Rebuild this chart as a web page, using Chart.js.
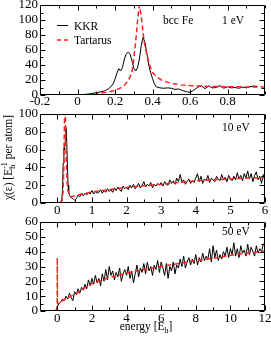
<!DOCTYPE html>
<html>
<head>
<meta charset="utf-8">
<script src="https://cdn.jsdelivr.net/npm/chart.js@4.4.1/dist/chart.umd.min.js"></script>
<style>
  html, body { margin: 0; padding: 0; background: #fff; }
  #wrap { position: relative; width: 271px; height: 339px; overflow: hidden; background: #fff; }
  .pane { position: absolute; left: 0; width: 271px; }
</style>
</head>
<body>
<div id="wrap">
  <div class="pane" style="top:0px;height:112px"><canvas id="c1" width="271" height="112"></canvas></div>
  <div class="pane" style="top:109px;height:112px"><canvas id="c2" width="271" height="112"></canvas></div>
  <div class="pane" style="top:216px;height:123px"><canvas id="c3" width="271" height="123"></canvas></div>
</div>
<script>
// ---------------- DATA ----------------
// Panel 1 (1 eV)
const kkr1X = [-0.2,0,0.05,0.1,0.13,0.15,0.17,0.19,
  0.2,0.21,0.22,0.23,0.24,0.25,0.26,0.27,0.28,0.29,0.3,0.31,0.32,0.33,0.34,0.35,0.36,0.37,0.38,0.39,0.4,0.41,0.42,
  0.44,0.46,0.48,0.5,0.52,0.54,0.56,0.58,0.6,0.62,0.64,0.66,0.68,0.7,0.72,0.74,0.76,0.78,0.8,0.82,0.84,0.86,0.88,0.9,0.92,0.94,0.96];
const kkr1Y = [0,0,1,3,4.5,6,9,15,
  21,29,35,32,37,48,55,57,55,46,36,32,36,48,66,77,70,55,40,30,22,15,11,
  9.5,9,9.5,9,7.5,8,6,4.5,3.5,6.5,10,12.5,8.5,12,9.5,10,12.5,9,11,9.5,10,9,10.5,9.5,11,12,11.5];
const tart1X = [0,0.05,0.1,0.15,0.2,0.23,0.25,0.27,0.28,0.29,0.3,0.31,0.32,0.33,0.34,0.35,0.36,0.37,0.38,0.39,0.4,0.42,0.45,0.5,0.55,0.6,0.7,0.8,0.9,1.0];
const tart1Y = [0,0.8,2,3.5,6,9.5,13,19,24,30,48,70,98,120,105,82,64,55,44,36,30,25,19.5,15.5,13.5,12.5,11.5,11,10.8,10.5];

// Panel 2 (10 eV)
const kkr10X = [-0.5,0.05,0.1,0.13,0.15,0.17,0.19,0.21,0.23,0.25,0.27,0.29,0.31,0.33,0.36,0.4,0.45,0.5,0.55,
  0.6,0.65,0.7,0.75,0.8,0.85,0.9,0.95,1.0,
  1.05,1.1,1.15,1.2,1.25,1.3,1.35,1.4,1.45,1.5,
  1.55,1.6,1.65,1.7,1.75,1.8,1.85,1.9,1.95,2.0,
  2.05,2.1,2.15,2.2,2.25,2.3,2.35,2.4,2.45,2.5,
  2.55,2.6,2.65,2.7,2.75,2.8,2.85,2.9,2.95,3.0,
  3.05,3.1,3.15,3.2,3.25,3.3,3.35,3.4,3.45,3.5,
  3.55,3.6,3.65,3.7,3.75,3.8,3.85,3.9,3.95,4.0,
  4.05,4.1,4.15,4.2,4.25,4.3,4.35,4.4,4.45,4.5,
  4.55,4.6,4.65,4.7,4.75,4.8,4.85,4.9,4.95,5.0,
  5.05,5.1,5.15,5.2,5.25,5.3,5.35,5.4,5.45,5.5,
  5.55,5.6,5.65,5.7,5.75,5.8,5.85,5.9,5.95,6.0];
const kkr10Y = [0,0,1,4,15,45,62,60,70,85,72,45,20,11,8,6,5,3,5,
  9,7,10,8,11,9,12,10,14,
  10,13,11,12,15,11,14,12,16,13,
  15,12,17,14,18,15,13,19,16,18,
  15,20,17,21,16,19,22,17,20,24,
  18,21,19,23,17,21,19,22,20,23,
  19,24,21,20,26,22,25,21,28,24,
  32,23,26,21,24,27,22,25,23,28,
  33,24,30,22,27,25,31,23,28,26,
  24,30,27,25,32,26,29,24,31,27,
  25,30,26,34,27,31,25,33,28,36,
  27,33,24,31,35,26,30,22,32,28];
const tart10X = [0.1,0.14,0.17,0.19,0.2,0.21,0.22,0.23,0.24,0.26,0.28,0.3,0.35,0.4,0.5,0.7,1,1.5,2,2.5,3,3.5,4,4.5,5,5.5,6];
const tart10Y = [0,3,15,45,75,100,120,105,80,45,25,15,9,7,8,10,12.5,15,17.5,19.5,21,23,25,26,27,28,28.5];

// Panel 3 (50 eV)
const kkr50X = [-0.8,-0.1,0,0.1,
  0.2,0.3,0.4,0.5,0.6,0.7,0.8,0.9,1.0,
  1.1,1.2,1.3,1.4,1.5,1.6,1.7,1.8,1.9,2.0,
  2.1,2.2,2.3,2.4,2.5,2.6,2.7,2.8,2.9,3.0,
  3.1,3.2,3.3,3.4,3.5,3.6,3.7,3.8,3.9,4.0,
  4.1,4.2,4.3,4.4,4.5,4.6,4.7,4.8,4.9,5.0,
  5.1,5.2,5.3,5.4,5.5,5.6,5.7,5.8,5.9,6.0,
  6.1,6.2,6.3,6.4,6.5,6.6,6.7,6.8,6.9,7.0,
  7.1,7.2,7.3,7.4,7.5,7.6,7.7,7.8,7.9,8.0,
  8.1,8.2,8.3,8.4,8.5,8.6,8.7,8.8,8.9,9.0,
  9.1,9.2,9.3,9.4,9.5,9.6,9.7,9.8,9.9,10.0,
  10.1,10.2,10.3,10.4,10.5,10.6,10.7,10.8,10.9,11.0,
  11.1,11.2,11.3,11.4,11.5,11.6,11.7,11.8,11.9,12.0];
const kkr50Y = [0,0,3,5,
  6,8,7,10,8,12,9,7,13,
  11,15,12,16,14,18,15,21,17,22,
  18,24,19,22,17,25,20,28,21,30,
  24,27,21,26,23,29,20,25,28,24,
  30,22,27,19,25,31,23,29,26,32,
  25,33,27,30,24,31,28,34,26,33,
  29,24,32,22,30,27,33,25,31,29,
  35,30,37,29,33,36,31,35,32,38,
  31,36,33,39,34,37,35,42,33,44,
  36,41,34,38,35,40,37,43,36,42,
  38,46,37,42,36,44,39,41,37,45,
  38,43,40,37,44,39,42,40,45,46];
const tart50X = [-0.01,0,0.01,0.05,0.3,0.6,1,1.5,2,2.5,3,4,5,6,7,8,9,10,11,12];
const tart50Y = [0,36,5,5,7,9,11,15,18.5,20.5,22.5,25.5,28,30,32,34,35.5,37.5,39,40.5];

// Axis ticks
const xTicks1 = [-0.2,0,0.2,0.4,0.6,0.8];
const xMinor1 = [-0.1,0.1,0.3,0.5,0.7,0.9,1.0];
const yTicks1 = [0,20,40,60,80,100,120];
const yMinor1 = [10,30,50,70,90,110];
const xTicks2 = [0,1,2,3,4,5,6];
const xMinor2 = [0.5,1.5,2.5,3.5,4.5,5.5];
const yTicks2 = [0,20,40,60,80,100];
const yMinor2 = [10,30,50,70,90];
const xTicks3 = [0,2,4,6,8,10,12];
const xMinor3 = [1,3,5,7,9,11];
const yTicks3 = [0,10,20,30,40,50,60];
const yMinor3 = [5,15,25,35,45,55];

const seriesNames = ['KKR', 'Tartarus'];
const panelLabels = ['1 eV', '10 eV', '50 eV'];

// ---------------- DRAWING ----------------
const FONT = '"Liberation Serif", "Times New Roman", serif';
const pts = (xs, ys) => xs.map((x, i) => ({x: x, y: ys[i]}));

function drawParts(ctx, parts, x, y, align) {
  let total = 0;
  parts.forEach(p => { ctx.font = p.size + 'px ' + FONT; p.w = ctx.measureText(p.t).width; if (!p.noAdvance) total += p.w; });
  let cx = align === 'center' ? x - total / 2 : x;
  ctx.textAlign = 'left';
  ctx.textBaseline = 'alphabetic';
  parts.forEach(p => {
    ctx.font = p.size + 'px ' + FONT;
    ctx.fillText(p.t, cx, y + (p.dy || 0));
    if (!p.noAdvance) cx += p.w;
  });
}

const framePlugin = {
  id: 'frame',
  afterDatasetsDraw(chart, args, o) {
    const {ctx, chartArea: a, scales: {x, y}} = chart;
    ctx.save();
    ctx.strokeStyle = '#000';
    ctx.lineWidth = 1;
    ctx.setLineDash([]);
    const L = Math.round(a.left) + 0.5, R = Math.round(a.right) - 0.5;
    const T = Math.round(a.top) + 0.5, B = Math.round(a.bottom) - 0.5;
    ctx.beginPath();
    ctx.rect(L, T, R - L, B - T);
    const tx = (vals, len) => vals.forEach(v => {
      const p = Math.round(x.getPixelForValue(v)) + 0.5;
      ctx.moveTo(p, B); ctx.lineTo(p, B - len);
      ctx.moveTo(p, T); ctx.lineTo(p, T + len);
    });
    const ty = (vals, len) => vals.forEach(v => {
      const p = Math.round(y.getPixelForValue(v)) + 0.5;
      ctx.moveTo(L, p); ctx.lineTo(L + len, p);
      ctx.moveTo(R, p); ctx.lineTo(R - len, p);
    });
    tx(o.xMajor, 5); tx(o.xMinor, 3);
    ty(o.yMajor, 5); ty(o.yMinor, 3);
    ctx.stroke();
    ctx.fillStyle = '#000';
    (o.texts || []).forEach(t => drawParts(ctx, t.parts, t.x, t.y, t.align));
    if (o.legend) {
      const lg = o.legend;
      ctx.lineWidth = 1;
      ctx.strokeStyle = '#000';
      ctx.beginPath(); ctx.moveTo(57, 25.5); ctx.lineTo(68, 25.5); ctx.stroke();
      ctx.strokeStyle = '#ff2020';
      ctx.lineWidth = 1.5;
      ctx.setLineDash([4, 3]);
      ctx.beginPath(); ctx.moveTo(57, 40); ctx.lineTo(69, 40); ctx.stroke();
      ctx.setLineDash([]);
      drawParts(ctx, [{t: lg[0], size: 11.5}], 74, 29.5, 'left');
      drawParts(ctx, [{t: lg[1], size: 11.5}], 74, 44, 'left');
    }
    if (o.yTitle) {
      ctx.save();
      ctx.translate(12, o.yTitle.cy);
      ctx.rotate(-Math.PI / 2);
      drawParts(ctx, o.yTitle.parts, 0, 0, 'center');
      ctx.restore();
    }
    ctx.restore();
  }
};

function makePanel(id, p) {
  const tickFont = {family: FONT, size: 13};
  return new Chart(document.getElementById(id), {
    type: 'line',
    data: {
      datasets: [
        {label: seriesNames[0], data: pts(p.kx, p.ky), borderColor: '#000', borderWidth: 1, pointRadius: 0, tension: 0, order: 2, fill: false},
        {label: seriesNames[1], data: pts(p.tx, p.ty), borderColor: '#ff2020', borderWidth: 1.5, borderDash: [5, 3], pointRadius: 0, tension: 0, order: 1, fill: false}
      ]
    },
    options: {
      responsive: false,
      animation: false,
      events: [],
      layout: {padding: {top: p.padTop, right: 6, left: 0, bottom: 0}},
      plugins: {
        legend: {display: false},
        tooltip: {enabled: false},
        frame: {xMajor: p.xTicks, xMinor: p.xMinor, yMajor: p.yTicks, yMinor: p.yMinor, texts: p.texts, legend: p.legend, yTitle: p.yTitle}
      },
      scales: {
        x: {
          type: 'linear', min: p.xMin, max: p.xMax,
          grid: {display: false, drawTicks: false}, border: {display: false},
          ticks: {font: tickFont, color: '#000', padding: p.xPad, autoSkip: false, maxRotation: 0, minRotation: 0,
                  callback: v => String(v)},
          afterBuildTicks: s => { s.ticks = p.xTicks.map(v => ({value: v})); },
          afterFit: s => { s.height = p.xAxisH; s.paddingLeft = 0; s.paddingRight = 0; }
        },
        y: {
          type: 'linear', min: p.yMin, max: p.yMax,
          grid: {display: false, drawTicks: false}, border: {display: false},
          ticks: {font: tickFont, color: '#000', padding: 2, autoSkip: false,
                  callback: v => String(v)},
          afterBuildTicks: s => { s.ticks = p.yTicks.map(v => ({value: v})); },
          afterFit: s => { s.width = 40; s.paddingTop = 0; s.paddingBottom = 0; }
        }
      }
    },
    plugins: [framePlugin]
  });
}

makePanel('c1', {
  kx: kkr1X, ky: kkr1Y, tx: tart1X, ty: tart1Y,
  xMin: -0.2, xMax: 1.0, yMin: 0, yMax: 120,
  xTicks: xTicks1, xMinor: xMinor1, yTicks: yTicks1, yMinor: yMinor1,
  padTop: 5, xAxisH: 17, xPad: -1,
  legend: seriesNames,
  texts: [
    {parts: [{t: 'bcc Fe', size: 11.5}], x: 163, y: 24, align: 'left'},
    {parts: [{t: panelLabels[0], size: 11.5}], x: 222, y: 24, align: 'left'}
  ]
});

makePanel('c2', {
  kx: kkr10X, ky: kkr10Y, tx: tart10X, ty: tart10Y,
  xMin: -0.5, xMax: 6, yMin: 0, yMax: 100,
  xTicks: xTicks2, xMinor: xMinor2, yTicks: yTicks2, yMinor: yMinor2,
  padTop: 5, xAxisH: 18, xPad: 0,
  texts: [
    {parts: [{t: panelLabels[1], size: 11.5}], x: 222, y: 22, align: 'left'}
  ],
  yTitle: {cy: 48.5, parts: [
    {t: 'χ(ε) [E', size: 11.5},
    {t: 'h', size: 8, dy: 3, noAdvance: true},
    {t: '-1', size: 8, dy: -5},
    {t: ' per atom]', size: 11.5}
  ]}
});

makePanel('c3', {
  kx: kkr50X, ky: kkr50Y, tx: tart50X, ty: tart50Y,
  xMin: -1, xMax: 12, yMin: 0, yMax: 60,
  xTicks: xTicks3, xMinor: xMinor3, yTicks: yTicks3, yMinor: yMinor3,
  padTop: 6, xAxisH: 28, xPad: 0,
  texts: [
    {parts: [{t: panelLabels[2], size: 11.5}], x: 222, y: 19, align: 'left'},
    {parts: [{t: 'energy [E', size: 11.5}, {t: 'h', size: 8, dy: 3}, {t: ']', size: 11.5}], x: 146, y: 114, align: 'center'}
  ]
});
</script>
</body>
</html>
